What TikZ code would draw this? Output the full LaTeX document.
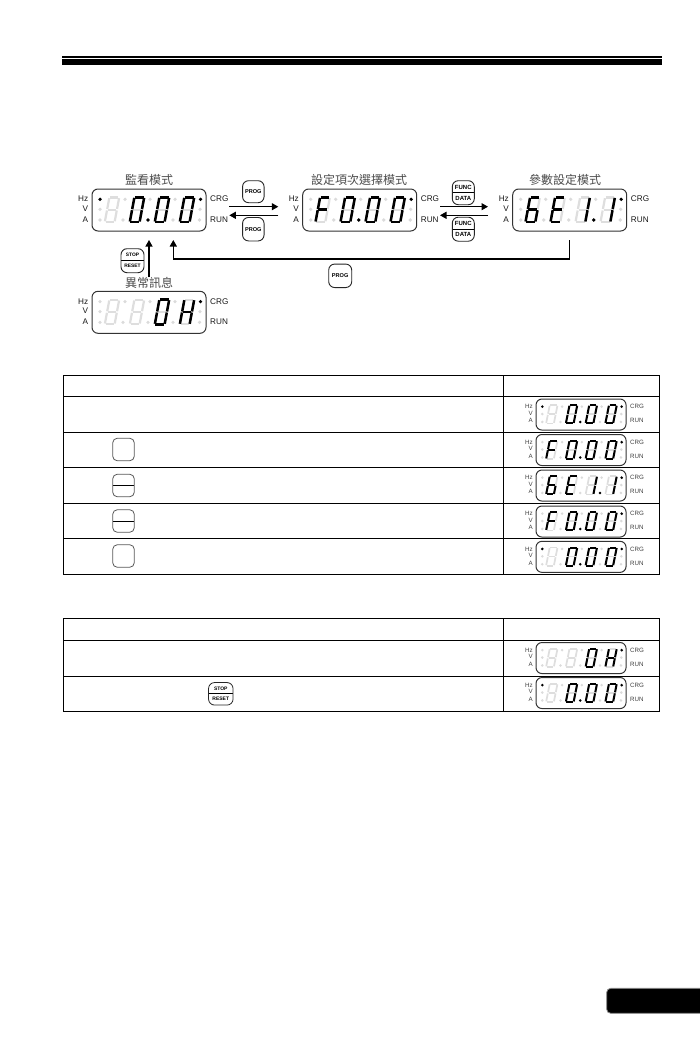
\documentclass[tikz,border=0pt]{standalone}
\usepackage{fontspec}
\setmainfont{Liberation Sans}
\newfontfamily\cjk{Noto Sans CJK TC}
\usetikzlibrary{arrows.meta}
\tikzset{
  seggray/.style={line width=2.2pt,draw=black!13,shorten >=.8pt,shorten <=.8pt},
  segblack/.style={line width=2.5pt,draw=black,shorten >=.5pt,shorten <=.5pt},
  sseggray/.style={line width=1.7pt,draw=black!13,shorten >=.6pt,shorten <=.6pt},
  dispbox/.style={draw=black!80,line width=1pt,rounded corners=6pt,inner sep=0,outer sep=0,anchor=north west,fill=white},
  biglab/.style={inner sep=0,font=\fontsize{8.2}{9}\selectfont,text=black!90},
  smalllab/.style={inner sep=0,font=\fontsize{6.2}{7}\selectfont,text=black!75},
  title/.style={inner sep=0,font=\cjk\fontsize{12}{13}\selectfont,text=black!70},
  conn/.style={draw=black,line width=1.2pt,-{Triangle[length=6.5pt,width=7pt]}},
  tbl/.style={draw=black,line width=1pt},
  key/.style={draw=black!85,line width=.9pt,rounded corners=6pt,inner sep=0,outer sep=0,align=center,font=\bfseries\fontsize{5.6}{7}\selectfont},
  tkey/.style={draw=black!65,line width=.8pt,rounded corners=4.5pt,inner sep=0,outer sep=0,minimum width=21.5pt,minimum height=22.5pt},
  splitline/.style={path picture={\draw[black,line width=.9pt] (path picture bounding box.west) -- (path picture bounding box.east);}},
}
\def\segw{4.9}\def\segs{2.3}
\newcommand\Sa[1]{\draw[#1] ({\cx-\segw+\segs},8.4)--({\cx+\segw+\segs},8.4);}
\newcommand\Sb[1]{\draw[#1] ({\cx+\segw+\segs},8.4)--({\cx+\segw},20.7);}
\newcommand\Sc[1]{\draw[#1] ({\cx+\segw},20.7)--({\cx+\segw-\segs},33);}
\newcommand\Sd[1]{\draw[#1] ({\cx-\segw-\segs},33)--({\cx+\segw-\segs},33);}
\newcommand\Se[1]{\draw[#1] ({\cx-\segw},20.7)--({\cx-\segw-\segs},33);}
\newcommand\Sf[1]{\draw[#1] ({\cx-\segw+\segs},8.4)--({\cx-\segw},20.7);}
\newcommand\Sg[1]{\draw[#1] ({\cx-\segw},20.7)--({\cx+\segw},20.7);}
\newcommand\Sx[1]{}
\def\Dnone{x}
\def\Dzero{a,b,c,d,e,f}
\def\DF{a,e,f,g}
\def\DH{b,c,e,f,g}
\def\Dsix{a,c,d,e,f,g}
\def\DE{a,d,e,f,g}
\def\Done{b,c}
\newcommand\dg[2]{\def\cx{#1}%
  \foreach \q in {a,b,c,d,e,f,g}{\csname S\q\endcsname{\grayseg}}%
  \foreach \q in #2{\csname S\q\endcsname{segblack,line width=\blackw}}}
\newcommand\fourd[4]{\dg{20}{#1}\dg{45}{#2}\dg{70}{#3}\dg{95}{#4}}
% name, x, y, xscale, yscale, digits, black dots
\newcommand\disp[7]{%
  \node[dispbox,minimum width={114*#4},minimum height={42*#5}] (#1) at (#2,#3) {};
  \begin{scope}[shift={(#2,#3)},xscale=#4,yscale=#5]
    \foreach \p/\r in {8/10.3,8/20.3,8/31,33/10.3,31/31,58/10.3,56/31,83/10.3,81/31,108.5/10.3,108/20.3,107.5/31}
      \fill[black!14] (\p,\r) ellipse ({\dotr/#4} and {\dotr/#5});
    \foreach \p/\r in #7
      \fill[black] (\p,\r) ellipse ({\dotr/#4} and {\dotr/#5});
    #6
  \end{scope}}
\newcommand\biglabels[3]{%
  \node[biglab,anchor=east] (#1hz) at ({#2-3.7},{#3+10}) {Hz};
  \node[biglab,anchor=east] (#1v) at ({#2-3.7},{#3+19.7}) {V};
  \node[biglab,anchor=east] (#1a) at ({#2-3.7},{#3+30.7}) {A};
  \node[biglab,anchor=west] (#1crg) at ({#2+118},{#3+10}) {CRG};
  \node[biglab,anchor=west] (#1run) at ({#2+118},{#3+30.7}) {RUN};}
\newcommand\smalllabels[3]{%
  \node[smalllab,anchor=east] (#1hz) at ({#2-3},{#3+7.7}) {Hz};
  \node[smalllab,anchor=east] (#1v) at ({#2-3},{#3+14.3}) {V};
  \node[smalllab,anchor=east] (#1a) at ({#2-3},{#3+21.7}) {A};
  \node[smalllab,anchor=west] (#1crg) at ({#2+94},{#3+7.7}) {CRG};
  \node[smalllab,anchor=west] (#1run) at ({#2+94},{#3+21.7}) {RUN};}
\newcommand\bigd[5]{\def\grayseg{seggray}\def\blackw{2.5pt}\def\dotr{1.8}\disp{#1}{#2}{#3}{1}{1}{#4}{#5}\biglabels{#1}{#2}{#3}}
\newcommand\smalld[5]{\def\grayseg{sseggray}\def\blackw{2pt}\def\dotr{1.4}\disp{#1}{#2}{#3}{.79}{.74}{#4}{#5}\smalllabels{#1}{#2}{#3}}
\def\Tmon{\fourd{\Dnone}{\Dzero}{\Dzero}{\Dzero}}
\def\Tfoo{\fourd{\DF}{\Dzero}{\Dzero}{\Dzero}}
\def\Tpar{\fourd{\Dsix}{\DE}{\Done}{\Done}}
\def\Toh{\fourd{\Dnone}{\Dnone}{\Dzero}{\DH}}
\begin{document}
\begin{tikzpicture}[x=1pt,y=-1pt]
\useasboundingbox[fill=white] (0,0) rectangle (700,1054);
% header band
\draw[black,line width=1.2pt] (62,57) -- (662,57);
\fill[black] (62,59.5) rectangle (662,65);
% page tab
\draw[fill=black,draw=black!45,line width=.8pt,rounded corners=4pt] (701,988.3) -- (606.7,988.3) -- (606.7,1013.3) -- (701,1013.3);
% big displays
\bigd{d1}{92}{189}{\Tmon}{{8/10.3,108.5/10.3,56/31}}
\bigd{d2}{302.7}{189}{\Tfoo}{{108.5/10.3,56/31}}
\bigd{d3}{512.7}{189}{\Tpar}{{108.5/10.3,81/31}}
\bigd{d4}{92}{291.3}{\Toh}{{108.5/10.3}}
% titles
\node[title] (t1) at (149,180) {監看模式};
\node[title] (t2) at (359,180) {設定項次選擇模式};
\node[title] (t3) at (565,180) {參數設定模式};
\node[title] (t4) at (149,283) {異常訊息};
% keys
\node[key,minimum width=21.5pt,minimum height=22pt] (kp1) at (253.3,191.7) {PROG};
\node[key,minimum width=21.5pt,minimum height=23.5pt] (kp2) at (253.3,229.2) {PROG};
\node[key,minimum width=23pt,minimum height=23.5pt] (kp3) at (340.2,275.8) {PROG};
\node[key,splitline,minimum width=22pt,minimum height=24pt,font=\bfseries\fontsize{6}{11}\selectfont] (kf1) at (463.3,192.7) {FUNC\\DATA};
\node[key,splitline,minimum width=22pt,minimum height=24pt,font=\bfseries\fontsize{6}{11}\selectfont] (kf2) at (463.3,229.2) {FUNC\\DATA};
\node[key,splitline,minimum width=23pt,minimum height=24pt,font=\bfseries\fontsize{4.9}{11}\selectfont] (ks1) at (132.5,260.7) {STOP\\RESET};
% connectors
\draw[conn] ([shift={(23.3,-3.3)}]d1.east) -- ([shift={(-24.4,-3.3)}]d2.west);
\draw[conn] ([shift={(-24.4,5.3)}]d2.west) -- ([shift={(23.3,5.3)}]d1.east);
\draw[conn] ([shift={(23.3,-3.3)}]d2.east) -- ([shift={(-24.7,-3.3)}]d3.west);
\draw[conn] ([shift={(-24.7,5.3)}]d3.west) -- ([shift={(23.3,5.3)}]d2.east);
\draw[conn] (t4.north) -- ([yshift=-9pt]d1.south);
\coordinate (ret) at (173.3,259);
\draw[conn] ([yshift=-9pt]d3.south) |- (ret) -- ([xshift=24.3pt,yshift=-9pt]d1.south);
% table 1
\draw[tbl] (63.3,375) rectangle (659.3,574);
\foreach \yy in {396,432,467.3,503,538.3}
  \draw[tbl] (63.3,\yy) -- (659.3,\yy);
\draw[tbl] (503.3,375) -- (503.3,574);
\node[tkey] (tk1) at (123.5,449.5) {};
\node[tkey,splitline] (tk2) at (123.5,485.5) {};
\node[tkey,splitline] (tk3) at (123.5,521) {};
\node[tkey] (tk4) at (123.5,556) {};
\smalld{s1}{536}{399}{\Tmon}{{8/10.3,108.5/10.3,56/31}}
\smalld{s2}{536}{434.5}{\Tfoo}{{108.5/10.3,56/31}}
\smalld{s3}{536}{470}{\Tpar}{{108.5/10.3,81/31}}
\smalld{s4}{536}{506}{\Tfoo}{{108.5/10.3,56/31}}
\smalld{s5}{536}{541.3}{\Tmon}{{8/10.3,108.5/10.3,56/31}}
% table 2
\draw[tbl] (63.3,618.3) rectangle (659.3,711);
\foreach \yy in {640,676}
  \draw[tbl] (63.3,\yy) -- (659.3,\yy);
\draw[tbl] (503.3,618.3) -- (503.3,711);
\node[key,splitline,minimum width=24.5pt,minimum height=22.5pt,line width=.8pt,font=\bfseries\fontsize{5}{10.5}\selectfont] (ks2) at (220.8,693.8) {STOP\\RESET};
\smalld{s6}{536}{642.5}{\Toh}{{108.5/10.3}}
\smalld{s7}{536}{677.5}{\Tmon}{{8/10.3,108.5/10.3,56/31}}
\end{tikzpicture}
\end{document}
